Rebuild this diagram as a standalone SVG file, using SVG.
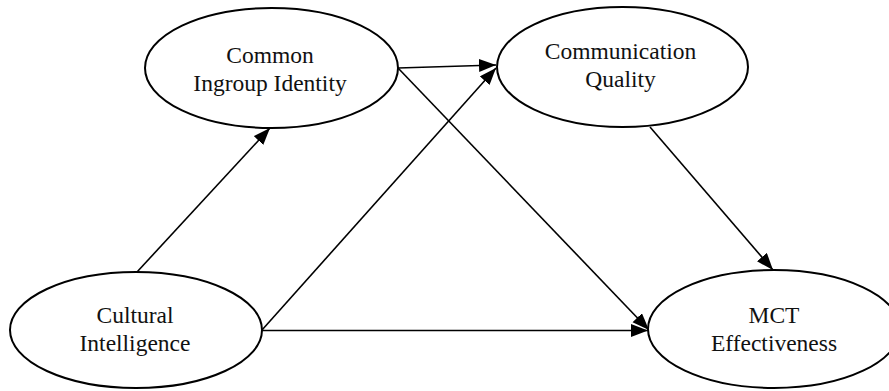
<svg xmlns="http://www.w3.org/2000/svg" width="889" height="391" viewBox="0 0 889 391">
<style>
.node ellipse{fill:#fff;stroke:#000;stroke-width:2}
.node text{font-family:"Liberation Serif","Times New Roman",serif;font-size:23.5px;fill:#111;text-anchor:middle}
.edge{stroke:#000;stroke-width:1.6;fill:none;marker-end:url(#ah)}
</style>
<defs>
<marker id="ah" markerUnits="userSpaceOnUse" markerWidth="18" markerHeight="14" refX="17" refY="6.5" orient="auto">
<path d="M0,0 L17,6.5 L0,13 z" fill="#000"/>
</marker>
</defs>
<rect width="889" height="391" fill="#fff"/>
<g id="connectors">
<line class="edge" x1="137" y1="272" x2="270" y2="128"/>
<line class="edge" x1="398" y1="68" x2="496" y2="65"/>
<line class="edge" x1="398" y1="68" x2="649" y2="330"/>
<line class="edge" x1="262" y1="330" x2="496" y2="68"/>
<line class="edge" x1="262" y1="330.5" x2="648" y2="330.5"/>
<line class="edge" x1="650" y1="127" x2="773" y2="270"/>
</g>
<g id="common-ingroup-identity" class="node">
<ellipse cx="271.5" cy="68" rx="126.5" ry="60"/>
<text x="270" y="63">Common</text>
<text x="270" y="91">Ingroup Identity</text>
</g>
<g id="communication-quality" class="node">
<ellipse cx="622.5" cy="67" rx="125.5" ry="60"/>
<text x="620.5" y="59">Communication</text>
<text x="620.5" y="87">Quality</text>
</g>
<g id="cultural-intelligence" class="node">
<ellipse cx="136" cy="330" rx="126" ry="58"/>
<text x="135" y="323">Cultural</text>
<text x="135" y="351">Intelligence</text>
</g>
<g id="mct-effectiveness" class="node">
<ellipse cx="774" cy="329" rx="126" ry="59"/>
<text x="774" y="323">MCT</text>
<text x="774" y="351">Effectiveness</text>
</g>
</svg>
